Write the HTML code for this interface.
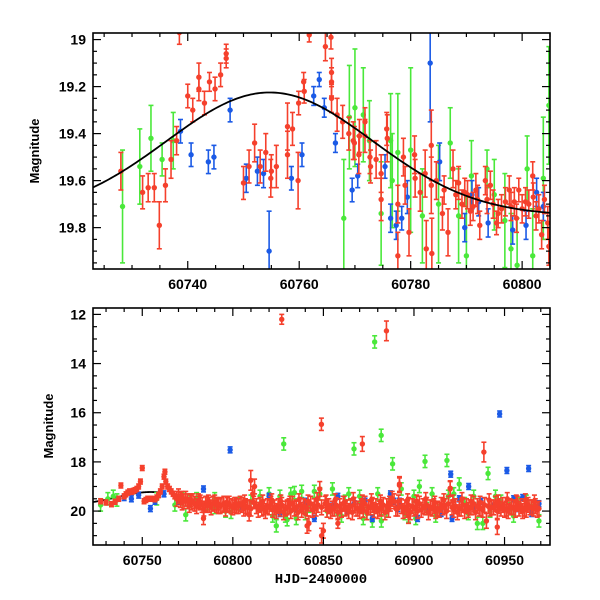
<!DOCTYPE html>
<html><head><meta charset="utf-8"><style>
html,body{margin:0;padding:0;background:#fff}
svg{display:block;font-family:"Liberation Sans",sans-serif}
</style></head><body>
<svg id="chart" width="600" height="600" viewBox="0 0 600 600" xmlns="http://www.w3.org/2000/svg">
<defs>
<clipPath id="clipTop"><rect x="93" y="33" width="457" height="236"/></clipPath>
<clipPath id="clipBot"><rect x="93" y="308" width="457" height="237"/></clipPath>
</defs>
<rect width="600" height="600" fill="#fff"/>
<g id="top"></g>
<g id="bot"></g>
<text transform="translate(39,151) rotate(-90)" text-anchor="middle" font-size="13" font-weight="bold">Magnitude</text>
<text transform="translate(53,426) rotate(-90)" text-anchor="middle" font-size="13" font-weight="bold">Magnitude</text>
<text x="321" y="583" text-anchor="middle" font-size="14" font-weight="bold" font-family="Liberation Mono, monospace">HJD−2400000</text>
</svg>
<script>
// ---- Top panel data: [HJD, mag, err] ----
const topRed = [[60728,19.56,0.08],[60731.9,19.65,0.07],[60732.9,19.63,0.06],[60734,19.63,0.06],[60734.9,19.79,0.1],[60736,19.62,0.07],[60737,19.51,0.08],[60738,19.43,0.06],[60740,19.24,0.05],[60740.9,19.30,0.05],[60742,19.16,0.06],[60742,19.21,0.05],[60743,19.27,0.05],[60743.9,19.18,0.04],[60744.9,19.21,0.05],[60745.9,19.15,0.05],[60746.9,19.06,0.04],[60746.9,19.08,0.04],[60738.5,18.97,0.05],[60750,19.61,0.07],[60751,19.54,0.07],[60752,19.44,0.08],[60753,19.54,0.07],[60754,19.48,0.08],[60754.9,19.59,0.08],[60755,19.56,0.07],[60755.9,19.54,0.09],[60757.9,19.37,0.1],[60757.9,19.49,0.1],[60758.8,19.38,0.07],[60759.8,19.60,0.12],[60759.9,19.27,0.05],[60760.8,19.18,0.04],[60760.9,19.22,0.05],[60761.8,18.98,0.03],[60764.7,19.03,0.06],[60765.7,18.99,0.05],[60765.8,19.14,0.06],[60765.8,19.18,0.06],[60765.8,19.25,0.06],[60766.8,19.32,0.07],[60767.8,19.35,0.07],[60768.9,19.40,0.07],[60769.7,19.43,0.08],[60769.9,19.44,0.07],[60770.7,19.49,0.08],[60770.8,19.41,0.07],[60771.8,19.41,0.07],[60771.8,19.35,0.06],[60772.7,19.50,0.07],[60772.8,19.54,0.07],[60773.8,19.51,0.08],[60774.7,19.57,0.08],[60774.7,19.68,0.09],[60775.7,19.38,0.07],[60775.8,19.42,0.1],[60777.7,19.70,0.08],[60777.7,19.92,0.1],[60778.7,19.50,0.08],[60779.7,19.82,0.1],[60780.7,19.49,0.08],[60780.8,19.59,0.08],[60781.7,19.65,0.08],[60782.6,19.57,0.1],[60782.8,19.89,0.12],[60783.7,19.45,0.15],[60783.7,19.62,0.12],[60783.8,19.91,0.15],[60785.7,19.74,0.07],[60786.7,19.82,0.1],[60787.6,19.55,0.08],[60788.6,19.61,0.07],[60789.7,19.65,0.06],[60790.7,19.73,0.06],[60791.7,19.64,0.07],[60792.4,19.79,0.06],[60793.4,19.60,0.06],[60793.7,19.68,0.06],[60795.4,19.78,0.05],[60795.7,19.74,0.06],[60797.7,19.64,0.06],[60798,19.71,0.06],[60798.6,19.69,0.06],[60799.4,19.64,0.05],[60800.6,19.69,0.06],[60801.9,19.58,0.06],[60802.5,19.75,0.06],[60803.5,19.83,0.06],[60804.6,19.78,0.07],[60804.8,19.88,0.08],[60788.1,19.66,0.06],[60789.2,19.70,0.06],[60790.2,19.66,0.06],[60791.2,19.71,0.06],[60792,19.68,0.06],[60794.3,19.62,0.06],[60794.8,19.70,0.06],[60796.3,19.72,0.06],[60797,19.69,0.06],[60799,19.76,0.06],[60800,19.72,0.06],[60801.2,19.70,0.06],[60802,19.67,0.06],[60803,19.72,0.06],[60804,19.68,0.06],[60786,19.64,0.06],[60784.6,19.60,0.08],[60779,19.62,0.08]];
const topBlue = [[60738.7,19.39,0.05],[60740.6,19.49,0.05],[60743.7,19.52,0.05],[60744.7,19.50,0.05],[60747.6,19.30,0.05],[60750.5,19.59,0.06],[60752.5,19.56,0.06],[60753.6,19.57,0.06],[60754.6,19.90,0.17],[60758.6,19.59,0.05],[60760.5,19.49,0.05],[60762.6,19.24,0.04],[60763.6,19.17,0.03],[60764.5,19.29,0.04],[60766.5,19.44,0.04],[60769.5,19.64,0.05],[60770.5,19.58,0.05],[60775.4,19.54,0.05],[60776.4,19.76,0.06],[60777.4,19.79,0.06],[60778.4,19.76,0.05],[60779.4,19.67,0.07],[60783.5,19.10,0.25],[60785.2,19.52,0.08],[60789.7,19.80,0.06],[60791,19.66,0.06],[60792.2,19.69,0.06],[60793.9,19.78,0.06],[60798.3,19.81,0.06],[60800.7,19.79,0.06],[60802.6,19.65,0.06],[60803.8,19.71,0.06]];
const topGreen = [[60728.3,19.71,0.24],[60731.4,19.54,0.16],[60733.4,19.42,0.14],[60735.4,19.51,0.07],[60737.4,19.43,0.12],[60768,19.76,0.25],[60769,19.33,0.22],[60770,19.29,0.25],[60771.5,19.32,0.2],[60772.6,19.43,0.17],[60774.7,19.74,0.22],[60776.4,19.43,0.2],[60776.7,19.60,0.2],[60777.7,19.48,0.25],[60780,19.47,0.35],[60782.1,19.75,0.2],[60787.1,19.44,0.15],[60790,19.92,0.25],[60790.9,19.58,0.15],[60793.7,19.55,0.08],[60796.9,19.77,0.2],[60798,19.89,0.15],[60799.1,19.96,0.2],[60800.9,19.55,0.14],[60801.9,19.92,0.2],[60803.8,19.59,0.26],[60804.8,19.28,0.25],[60785,19.70,0.25],[60788.6,19.75,0.2],[60795,19.66,0.15]];
// fit model parameters (Gaussian bump)
const fitBase = [19.75], fitAmp = [0.525], fitPeak = [60754.7], fitSigma = [18.5];

// ---- Bottom panel data ----
const botRedEarly = [[60727,19.6],[60730,19.65],[60733,19.72],[60735,19.62],[60737,19.5],[60738.2,18.96],[60740,19.4],[60741,19.32],[60742,19.25],[60743,19.2],[60744,19.22],[60745,19.18],[60746,19.15],[60747,19.1],[60748,19.0],[60749,18.8],[60750,18.25],[60751,19.6],[60752,19.55],[60753,19.5],[60755,19.5],[60757,19.52],[60758,19.45],[60759,19.35],[60760,19.2],[60761,19.0],[60762,18.6],[60762.5,18.4],[60763,18.8],[60764,19.0],[60765,19.1],[60766,19.2],[60767,19.3],[60768,19.4]];
const botRedX1 = [60769,60771,60773,60775,60777,60779,60781,60783,60785,60787,60789,60791,60793,60795,60797,60799,60801,60803,60805,60807,60809,60811,60813,60815,60817,60819,60821,60823,60825,60827,60829,60831,60833,60835,60837,60839,60841,60843,60845,60847,60849,60851,60853,60855,60857,60859,60861,60863,60865,60867,60869,60871,60873,60875,60877,60879,60881,60883,60885,60887,60889,60891,60893,60895,60897,60899,60901,60903,60905,60907,60909,60911,60913,60915,60917,60919,60921,60923,60925,60927,60929,60931,60933,60935,60937,60939,60941,60943,60945,60947,60949,60951,60953,60955,60957,60959,60961,60963,60965,60967,60969];
const botRedY1 = [19.5,19.55,19.6,19.6,19.65,19.7,19.6,19.75,19.7,19.75,19.7,19.75,19.8,19.7,19.75,19.8,19.75,19.8,19.75,19.8,19.85,19.3,19.8,19.75,19.85,19.8,19.7,19.85,19.8,19.75,19.9,19.8,19.7,19.85,19.75,19.8,19.9,19.7,19.8,19.75,19.85,19.7,19.8,19.9,19.75,19.8,19.7,19.85,19.8,19.75,19.9,19.8,19.7,19.85,19.75,19.8,19.9,19.75,19.8,19.7,19.6,19.9,19.8,19.85,19.75,19.8,19.85,19.7,19.8,19.75,19.85,19.8,19.9,19.75,19.8,19.7,19.85,19.8,19.9,19.75,19.8,19.85,19.7,19.8,19.9,19.75,19.8,19.85,19.7,19.8,19.75,19.9,19.8,19.85,19.7,19.8,19.9,19.75,19.85,19.8,19.9];
const botRedX2 = [60770,60772,60774,60776,60778,60780,60782,60784,60786,60788,60790,60792,60794,60796,60798,60800,60802,60804,60806,60808,60810,60812,60814,60816,60818,60820,60822,60824,60826,60828,60830,60832,60834,60836,60838,60840,60842,60844,60846,60848,60850,60852,60854,60856,60858,60860,60862,60864,60866,60868,60870,60872,60874,60876,60878,60880,60882,60884,60886,60888,60890,60892,60894,60896,60898,60900,60902,60904,60906,60908,60910,60912,60914,60916,60918,60920,60922,60924,60926,60928,60930,60932,60934,60936,60938,60940,60942,60944,60946,60948,60950,60952,60954,60956,60958,60960,60962,60964,60966,60968];
const botRedY2 = [19.4,19.65,19.5,19.75,19.6,19.8,19.65,19.9,19.75,19.85,19.65,19.8,19.75,19.9,19.7,19.85,19.8,19.7,19.9,19.85,19.9,19.0,19.95,19.9,20.0,19.85,19.95,20.0,19.9,20.05,19.85,20.0,19.9,20.05,19.95,19.85,20.5,19.95,19.9,19.1,20.8,19.95,20.0,19.9,20.05,19.95,19.9,20.0,20.05,19.9,20.0,19.95,20.05,19.85,19.95,20.0,19.9,20.05,19.95,19.5,19.9,18.95,20.0,19.95,20.05,19.9,20.0,19.95,19.85,20.05,19.9,20.0,19.95,19.85,20.0,19.1,19.95,20.05,19.9,20.0,19.95,19.85,20.05,19.9,19.95,20.4,19.9,19.85,20.0,19.9,19.95,20.0,19.85,19.95,19.9,20.0,19.95,19.85,19.9,19.95];
const botRedX3 = [60771.5,60776.5,60781.5,60786.5,60791.5,60796.5,60801.5,60806.5,60811.5,60816.5,60821.5,60826.5,60831.5,60836.5,60841.5,60846.5,60851.5,60856.5,60861.5,60866.5,60871.5,60876.5,60881.5,60886.5,60891.5,60896.5,60901.5,60906.5,60911.5,60916.5,60921.5,60926.5,60931.5,60936.5,60941.5,60946.5,60951.5,60956.5,60961.5,60966.5];
const botRedY3 = [19.45,19.55,19.65,19.6,19.7,19.65,19.7,19.6,19.65,19.6,19.55,19.6,19.65,19.55,19.6,19.5,19.6,19.55,19.65,19.5,19.6,19.55,19.6,19.65,19.6,19.55,19.6,19.5,19.65,19.55,19.6,19.5,19.6,19.65,19.55,19.6,19.5,19.6,19.55,19.6];
const botRedOut = [[60827,12.2,0.2],[60884.8,12.67,0.4],[60848.9,16.47,0.25],[60871.5,17.27,0.3],[60938.6,17.6,0.4],[60809.9,18.75,0.4],[60920,19.07,0.3],[60892,18.9,0.3],[60783.8,20.3,0.25],[60809,20.15,0.25],[60858,20.5,0.2],[60946,20.65,0.3],[60841,20.6,0.3],[60849,21.0,0.3],[60897,20.2,0.3]];
const botGreen = [[60727,19.75],[60731,19.5],[60734,19.4],[60736,19.55],[60758,19.5],[60768,19.75],[60772,19.5],[60774,20.15],[60780,19.5],[60786,19.7],[60790,19.85],[60796,20.0],[60799,20.05],[60803,19.7],[60810,19.6],[60815,19.4],[60820,19.3],[60824,20.6],[60828.1,17.27],[60829,20.2],[60832,19.3],[60835,20.3],[60838,19.2],[60842,19.8],[60845,19.2],[60852,20.0],[60855,19.1],[60858,20.1],[60862,19.6],[60866.9,17.47],[60870,19.4],[60874,20.1],[60877,20.4],[60878.3,13.12],[60880,19.3],[60881.9,16.92],[60885,20.0],[60888.2,18.08],[60893,19.1],[60897,20.2],[60901,20.3],[60903,19.0],[60906.1,17.98],[60907,19.9],[60910,19.3],[60914,20.0],[60918.2,17.94],[60919,19.4],[60925,18.9],[60928,19.7],[60933,19.4],[60935,20.5],[60940.9,18.47],[60942,20.0],[60948,19.6],[60953,19.9],[60958,19.7],[60965,19.8],[60969,20.4],[60822,20.2],[60826,19.4],[60830,20.35],[60834,19.25],[60840,20.1],[60848,19.3],[60860,20.2],[60864,19.3],[60872,20.3],[60882,20.4],[60887,19.5],[60895,20.1],[60900,19.4],[60912,20.2],[60922,19.3],[60930,20.1],[60938,20.5],[60945,19.4],[60955,20.2],[60962,19.6],[60776,19.6],[60790,19.5]];
const botBlue = [[60740,19.45],[60744,19.5],[60748,19.35],[60754.5,19.9],[60757,19.6],[60762,19.3],[60770,19.6],[60783.8,19.1],[60798.5,17.51],[60805,19.8],[60815,19.9],[60820,19.4],[60826,20.1],[60835,19.9],[60840,19.6],[60845,20.3],[60855,19.8],[60858,19.4],[60863,20.0],[60867,19.7],[60873,19.6],[60877,20.3],[60887,19.3],[60892,19.6],[60902,20.3],[60908,19.9],[60915,20.1],[60920.3,18.5],[60921,20.3],[60925,19.5],[60930.2,19.0],[60937,19.6],[60944,19.8],[60947.3,16.05],[60951.3,18.35],[60955,19.5],[60960,19.45],[60963.3,18.27],[60965,20.1],[60969,19.7],[60889,19.6],[60891,19.9],[60933,19.8],[60957,19.9]];

const NS = 'http://www.w3.org/2000/svg';
function el(tag, attrs, parent){const e=document.createElementNS(NS,tag);for(const k in attrs)e.setAttribute(k,attrs[k]);parent.appendChild(e);return e;}
const RED='#f5402c', GREEN='#4ae83a', BLUE='#1b5ae6';

function panel(g, box, xr, yr, xt, yt, clip, fmtY){
  const sx=v=>box.x+(v-xr[0])/(xr[1]-xr[0])*box.w;
  const sy=v=>box.y+(v-yr[0])/(yr[1]-yr[0])*box.h;
  const pts=el('g',{'clip-path':'url(#'+clip+')'},g);
  
  
  return {sx,sy,pts,finish(){
    const ax=el('g',{stroke:'#000','stroke-width':1.2},g);
    
    
    for(let v=Math.ceil(xr[0]/xt[1])*xt[1]; v<=xr[1]; v+=xt[1]){
      const maj=Math.abs(v/xt[0]-Math.round(v/xt[0]))<1e-6, L=maj?8:4, X=sx(v);
      el('line',{x1:X,x2:X,y1:box.y+box.h,y2:box.y+box.h-L},ax);
      el('line',{x1:X,x2:X,y1:box.y,y2:box.y+L},ax);
      if(maj){const t=el('text',{x:X,y:box.y+box.h+20,'text-anchor':'middle','font-size':14,'font-weight':'bold',stroke:'none'},g);t.textContent=Math.round(v);
        
        }
    }
    const n0=Math.ceil(yr[0]/yt[1]-1e-6), n1=Math.floor(yr[1]/yt[1]+1e-6);
    for(let n=n0;n<=n1;n++){
      const v=n*yt[1]; const r=v/yt[0]; const maj=Math.abs(r-Math.round(r))<1e-6, L=maj?8:4, Y=sy(v);
      el('line',{x1:box.x,x2:box.x+L,y1:Y,y2:Y},ax);
      el('line',{x1:box.x+box.w,x2:box.x+box.w-L,y1:Y,y2:Y},ax);
      if(maj){const t=el('text',{x:box.x-7,y:Y+5,'text-anchor':'end','font-size':14,'font-weight':'bold'},g);t.textContent=fmtY(v);
        
        }
    }
    const fr=el('rect',{x:box.x,y:box.y,width:box.w,height:box.h,fill:'none',stroke:'#000','stroke-width':1.6},g);
    
    
  }};
}
function drawPts(P, data, color, name, defErr){
  const g=el('g',{},P.pts);
  
  
  data.forEach(d=>{
    const e=d[2]!==undefined?d[2]:defErr; const X=P.sx(d[0]), Y=P.sy(d[1]);
    const y1=P.sy(d[1]-e), y2=P.sy(d[1]+e);
    el('line',{x1:X,x2:X,y1:y1,y2:y2,stroke:color,'stroke-width':1.6},g);
    el('line',{x1:X-2.5,x2:X+2.5,y1:y1,y2:y1,stroke:color,'stroke-width':1.6},g);
    el('line',{x1:X-2.5,x2:X+2.5,y1:y2,y2:y2,stroke:color,'stroke-width':1.6},g);
    const c=el('circle',{cx:X,cy:Y,r:2.7,fill:color},g);
    
    
  });
}
function fitPath(P, x0, x1){
  let d='';
  for(let i=0;i<=200;i++){const x=x0+(x1-x0)*i/200;
    const m=fitBase[0]-fitAmp[0]*Math.exp(-Math.pow(x-fitPeak[0],2)/(2*fitSigma[0]*fitSigma[0]));
    d+=(i?'L':'M')+P.sx(x).toFixed(2)+','+P.sy(m).toFixed(2);}
  const p=el('path',{d:d,fill:'none',stroke:'#000','stroke-width':1.8},P.pts);
  
  
}
// top
const T=panel(document.getElementById('top'),{x:93,y:33,w:457,h:236},[60723,60805],[18.972,19.976],[20,5],[0.2,0.05],'clipTop',v=>Math.abs(v-19)<1e-6?'19':v.toFixed(1));
drawPts(T,topGreen,GREEN,'green-series',0.1);
drawPts(T,topBlue,BLUE,'blue-series',0.05);
drawPts(T,topRed,RED,'red-series',0.06);
fitPath(T,60723,60805);
T.finish();
// bottom
const B=panel(document.getElementById('bot'),{x:93,y:308,w:457,h:237},[60722.8,60975.1],[11.74,21.38],[50,10],[2,0.5],'clipBot',v=>String(Math.round(v)));
fitPath(B,60722.8,60762);
drawPts(B,botGreen,GREEN,'green-series',0.25);
drawPts(B,botBlue,BLUE,'blue-series',0.12);
const band1=botRedX1.slice(0,Math.min(botRedX1.length,botRedY1.length)).map((x,i)=>[x,botRedY1[i]]);
const band2=botRedX2.slice(0,Math.min(botRedX2.length,botRedY2.length)).map((x,i)=>[x,botRedY2[i]]);
const band3=botRedX3.slice(0,Math.min(botRedX3.length,botRedY3.length)).map((x,i)=>[x,botRedY3[i]]);
drawPts(B,botRedEarly,RED,'red-series',0.1);
drawPts(B,band1,RED,'red-series',0.3);
drawPts(B,band2,RED,'red-series',0.3);
drawPts(B,band3,RED,'red-series',0.25);
drawPts(B,botRedOut,RED,'red-series',0.2);
B.finish();
</script>
</body></html>
